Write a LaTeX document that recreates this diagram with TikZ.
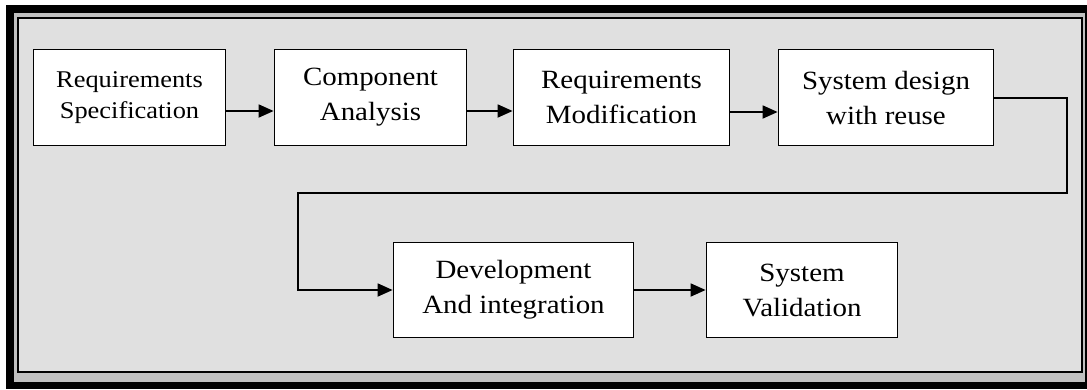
\documentclass[tikz,border=0pt]{standalone}
\usepackage{fontspec}
\setmainfont[FakeStretch=1.1]{Liberation Serif}
\usetikzlibrary{arrows.meta}
\definecolor{panel}{HTML}{E0E0E0}
\definecolor{band}{HTML}{C0C0C0}
\tikzset{
  stepbox/.style={draw=black, fill=white, line width=1.8pt, inner sep=0pt, align=center,
    font=\fontsize{26.3}{35}\selectfont},
  smallbox/.style={stepbox, font=\fontsize{24}{30.5}\selectfont},
  conn/.style={line width=1.8pt, -{Triangle[length=15pt,width=13pt]}},
}
\begin{document}
\begin{tikzpicture}[x=1pt,y=-1pt]
\useasboundingbox (0,0) rectangle (1087,389);
\fill[white] (0,0) rectangle (1087,389);
\fill[black] (6,5) rectangle (1087,389);
\fill[band] (14,13) rectangle (1085,382);
\draw[line width=2pt, fill=panel] (18,18) rectangle (1082,372);

\node[smallbox, minimum width=192pt, minimum height=96pt] (b1) at (129.5,97.5) {Requirements\\Specification};
\node[stepbox, minimum width=192pt, minimum height=96pt] (b2) at (370.5,97.5) {Component\\Analysis};
\node[stepbox, minimum width=216pt, minimum height=96pt] (b3) at (621.5,97.5) {Requirements\\Modification};
\node[stepbox, minimum width=215pt, minimum height=96pt] (b4) at (886,97.5) {System design\\with reuse};
\node[stepbox, minimum width=240pt, minimum height=95pt] (b5) at (513.5,290) {Development\\And integration};
\node[stepbox, minimum width=191pt, minimum height=95pt] (b6) at (802,290) {System\\Validation};

\coordinate (r1) at (0,111);
\coordinate (r2) at (0,112);
\coordinate (c1) at (1067,98);
\coordinate (c2) at (1067,193);
\coordinate (c3) at (298,193);
\coordinate (c4) at (298,290);

\draw[conn] (b1.east |- r1) -- (b2.west |- r1);
\draw[conn] (b2.east |- r1) -- (b3.west |- r1);
\draw[conn] (b3.east |- r2) -- (b4.west |- r2);
\draw[conn] (b4.east |- c1) -- (c1) -- (c2) -- (c3) -- (c4) -- (b5.west);
\draw[conn] (b5.east) -- (b6.west);
\end{tikzpicture}
\end{document}
